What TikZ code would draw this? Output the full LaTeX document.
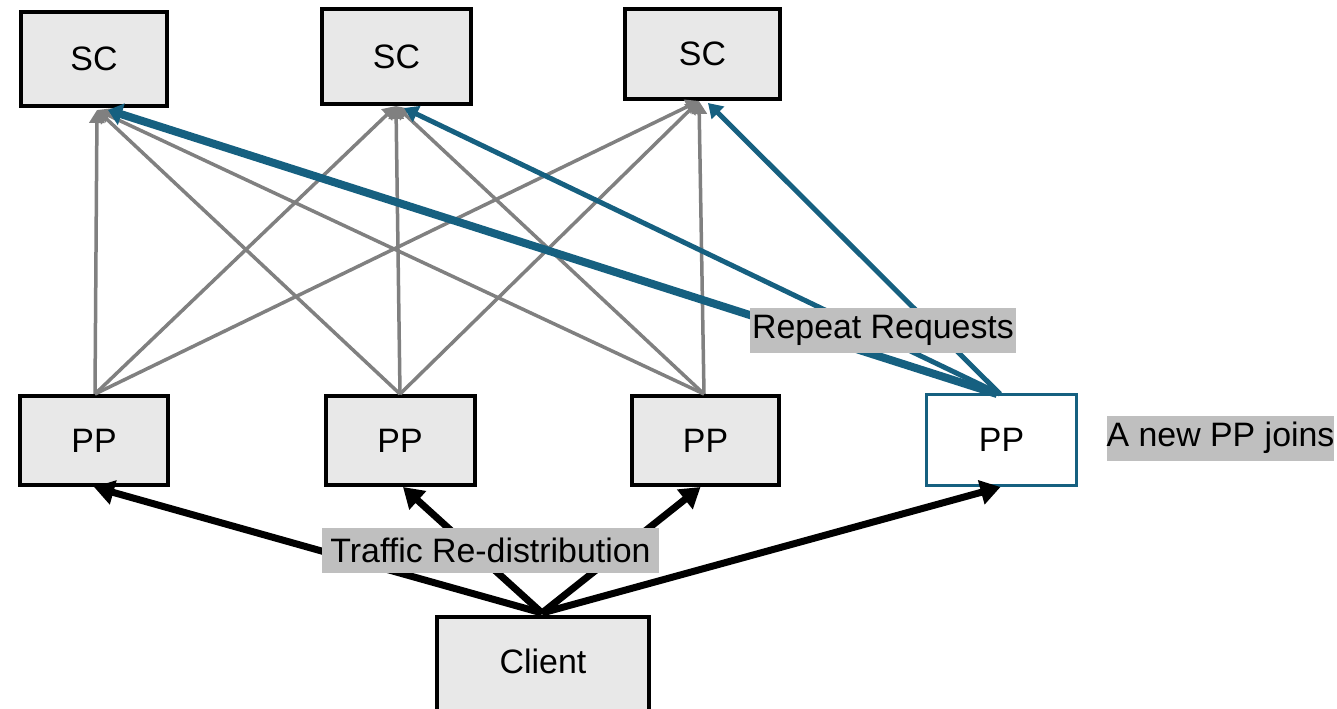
\documentclass[tikz,border=0pt]{standalone}
\usepackage{fontspec}
\setmainfont{Liberation Sans}
\usetikzlibrary{arrows.meta}
\definecolor{boxfill}{RGB}{232,232,232}
\definecolor{lblbg}{RGB}{191,191,191}
\definecolor{linegray}{RGB}{128,128,128}
\definecolor{newblue}{RGB}{22,96,128}
\begin{document}
\begin{tikzpicture}[x=1bp,y=-1bp,
  every node/.style={font=\fontsize{34}{40}\selectfont},
  boxnode/.style={draw=black,line width=4bp,fill=boxfill,inner sep=0pt},
  newbox/.style={draw=newblue,line width=3bp,fill=white,inner sep=0pt},
  lbl/.style={fill=lblbg,inner xsep=0pt,inner ysep=0pt,minimum height=45bp},
  grayarr/.style={draw=linegray,line width=3.5bp,-{Triangle[length=13bp,width=15bp]}},
  bluearr/.style={draw=newblue,line width=5bp,-{Triangle[length=14bp,width=17bp]}},
  bluethick/.style={draw=newblue,line width=8bp,-{Triangle[length=14bp,width=22bp]}},
  blackarr/.style={draw=black,line width=7bp,-{Triangle[length=20bp,width=24bp]}}
]
\useasboundingbox (0,0) rectangle (1337,708);
% boxes
\node[boxnode,minimum width=146bp,minimum height=94bp] (sc1) at (94,59) {SC};
\node[boxnode,minimum width=149bp,minimum height=95bp] (sc2) at (396.5,56.5) {SC};
\node[boxnode,minimum width=155bp,minimum height=90bp] (sc3) at (702.5,54) {SC};
\node[boxnode,minimum width=148bp,minimum height=89bp] (pp1) at (94,440.5) {PP};
\node[boxnode,minimum width=149bp,minimum height=89bp] (pp2) at (400,440.5) {PP};
\node[boxnode,minimum width=147bp,minimum height=89bp] (pp3) at (705.5,440.5) {PP};
\node[newbox,minimum width=150bp,minimum height=91bp] (pp4) at (1001.5,440) {PP};
\node[boxnode,minimum width=212bp,minimum height=130bp,anchor=north] (cl) at (543,615) {};
\node (cltext) at (543,661) {Client};
% tip coordinates
\coordinate (g1) at (97,110);
\coordinate (g2) at (396,106);
\coordinate (g3) at (699,101);
\coordinate (b1) at (108,110);
\coordinate (b2) at (404,108);
\coordinate (b3) at (708,103);
\coordinate (p1) at (95,394);
\coordinate (p2) at (400,394);
\coordinate (p3) at (704,394);
\coordinate (p4) at (1000,394);
\coordinate (c0) at (542,613);
% gray links
\foreach \p in {p1,p2,p3}{
  \foreach \g in {g1,g2,g3}{
    \draw[grayarr] (\p) -- (\g);
  }
}
% blue links
\draw[bluethick] ([xshift=-3bp]p4) -- (b1);
\draw[bluearr] (p4) -- (b2);
\draw[bluearr] (p4) -- (b3);
% black links
\draw[blackarr] (c0) -- (pp1.south);
\draw[blackarr] (c0) -- ([xshift=3bp]pp2.south);
\draw[blackarr] (c0) -- ([xshift=-5bp]pp3.south);
\draw[blackarr] (c0) -- ([xshift=-1bp]pp4.south);
% labels
\node[lbl,minimum width=266bp] (rr) at (883,330) {Repeat Requests};
\node[lbl,minimum width=337bp] (tr) at (490.5,550) {Traffic Re-distribution};
\node[lbl,minimum width=225bp] (np) at (1220.5,438) {A new PP joins};
\end{tikzpicture}
\end{document}
